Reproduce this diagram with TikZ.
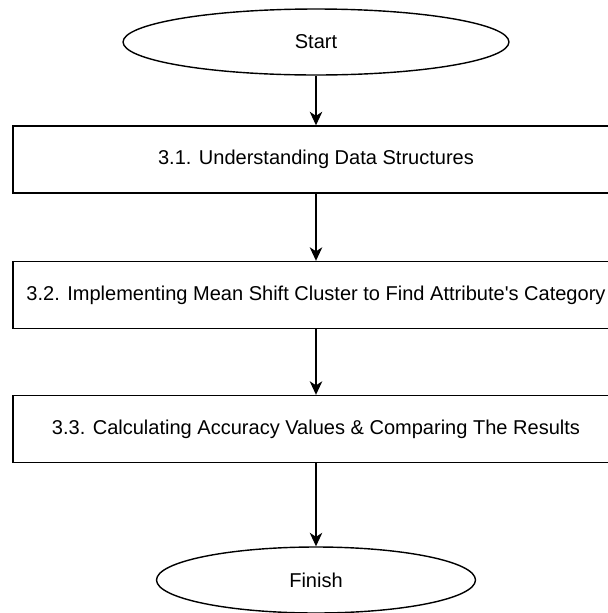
\documentclass[tikz,border=0pt]{standalone}
\usepackage{fontspec}
\setmainfont{Liberation Sans}[Ligatures=TeXOff]
\usetikzlibrary{arrows.meta}
\usetikzlibrary{shapes.geometric}

\begin{document}
\begin{tikzpicture}[x=0.02cm, y=0.02cm,
        every node/.style={font=\fontsize{11.4}{13}\selectfont},
        terminal/.style={ellipse, draw, line width=0.8pt, minimum height=1.32cm, inner sep=0pt},
        stepbox/.style={rectangle, draw, line width=0.8pt, minimum width=12.12cm, minimum height=1.34cm, inner sep=0pt},
        flow/.style={-{Stealth[length=0.27cm, width=0.25cm, inset=0.08cm]}, line width=0.8pt}]
        \useasboundingbox (0,0) rectangle (608,-613);
        \pgfmathsetmacro{\cx}{316};
        \node [terminal, minimum width=7.72cm] (start) at (\cx,-42) {Start};
        \node [stepbox] (understand) at (\cx,-159.5) {3.1. Understanding Data Structures};
        \node [stepbox] (meanshift) at (\cx,-295) {3.2. Implementing Mean Shift Cluster to Find Attribute's Category};
        \node [stepbox] (accuracy) at (\cx,-429) {3.3. Calculating Accuracy Values \& Comparing The Results};
        \node [terminal, minimum width=6.38cm] (finish) at (\cx,-580) {Finish};
        \foreach \a/\b in {start/understand, understand/meanshift, meanshift/accuracy, accuracy/finish}
            \draw [flow] (\a) -- (\b);
    \end{tikzpicture}
\end{document}
